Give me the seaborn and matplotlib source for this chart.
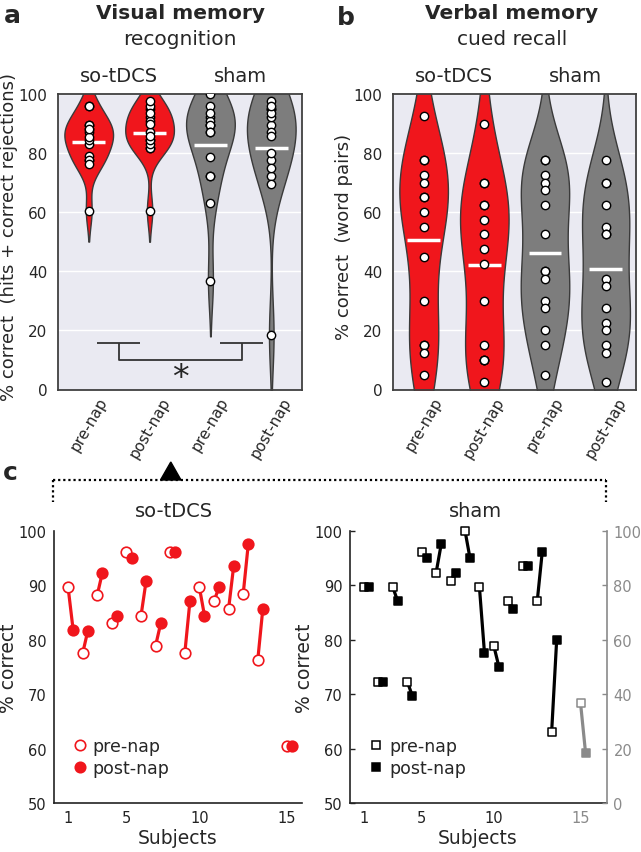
import numpy as np
import pandas as pd
import matplotlib
matplotlib.use('Agg')
import matplotlib.pyplot as plt
import seaborn as sns
from matplotlib.lines import Line2D
from matplotlib.patches import Polygon
from matplotlib.transforms import blended_transform_factory

# ---------------- data ----------------
conditions = ['pre-nap', 'post-nap', 'pre-nap', 'post-nap']
groups = ['so-tDCS', 'sham']
subjects = list(range(1, 16))
outlier_subject = 15

# visual memory recognition (% hits + correct rejections), per subject
visual_stim_pre = [89.6, 77.5, 88.2, 83.0, 96.1, 84.4, 78.9, 96.1, 77.5, 89.6, 87.0, 85.6, 88.3, 76.2, 60.5]
visual_stim_post = [81.7, 81.6, 92.3, 84.4, 94.9, 90.8, 83.0, 96.1, 87.0, 84.4, 89.7, 93.5, 97.5, 85.7, 60.5]
visual_sham_pre = [89.6, 72.3, 89.6, 72.3, 96.1, 92.3, 90.8, 100.0, 89.6, 78.8, 87.0, 93.5, 87.0, 63.0, 36.8]
visual_sham_post = [89.6, 72.3, 87.0, 69.7, 94.9, 97.5, 92.3, 94.9, 77.5, 75.0, 85.7, 93.5, 96.1, 80.0, 18.4]

# verbal memory cued recall (% word pairs)
verbal_stim_pre = [92.5, 77.5, 77.5, 72.5, 70, 65, 65, 60, 55, 45, 30, 15, 15, 12.5, 5]
verbal_stim_post = [90, 70, 70, 62.5, 62.5, 57.5, 52.5, 47.5, 42.5, 30, 15, 10, 10, 10, 2.5]
verbal_sham_pre = [77.5, 77.5, 72.5, 70, 67.5, 62.5, 52.5, 40, 40, 37.5, 30, 27.5, 20, 15, 5]
verbal_sham_post = [77.5, 70, 70, 62.5, 55, 52.5, 52.5, 37.5, 35, 27.5, 22.5, 20, 15, 12.5, 2.5]

# ---------------- style ----------------
sns.set_theme(style='darkgrid')
plt.rcParams['font.family'] = ['DejaVu Sans']
RED = '#f0161c'
GRAY = '#7d7d7d'
EDGE = '#3a3a3a'
LIGHTGRAY = '#8a8a8a'

slots = [f'{g} {c}' for g, c in zip(['so-tDCS', 'so-tDCS', 'sham', 'sham'], conditions)]
palette = dict(zip(slots, [RED, RED, GRAY, GRAY]))

W, H = 641, 853
fig = plt.figure(figsize=(W / 100, H / 100), dpi=100)


def long_df(arrs):
    return pd.DataFrame({'slot': np.repeat(slots, [len(a) for a in arrs]),
                         'value': np.concatenate([np.asarray(a, float) for a in arrs])})


def violin_panel(ax, df, ylabel, lab_x):
    sns.violinplot(data=df, x='slot', y='value', hue='slot', order=slots, hue_order=slots,
                   palette=palette, inner=None, cut=2, density_norm='width', width=0.8,
                   linewidth=1.0, linecolor=EDGE, saturation=1, legend=False, ax=ax)
    means = df.groupby('slot')['value'].mean().reindex(slots)
    xs = np.arange(len(slots))
    ax.hlines(means.values, xs - 0.27, xs + 0.27, color='white', lw=2.5, zorder=3)
    sns.stripplot(data=df, x='slot', y='value', order=slots, jitter=False, color='white',
                  edgecolor='black', linewidth=1.0, size=6, ax=ax, zorder=4)
    ax.set_ylim(0, 100)
    ax.set_xlim(-0.5, 3.5)
    ax.set_yticks(range(0, 101, 20))
    ax.set_xticks(xs)
    ax.set_xticklabels(conditions, rotation=60, ha='center', fontsize=11)
    ax.tick_params(axis='y', labelsize=11, pad=2)
    ax.tick_params(axis='x', pad=-3)
    ax.set_xlabel('')
    ax.set_ylabel(ylabel, fontsize=13)
    ax.yaxis.set_label_coords(lab_x, 0.52)
    ax.grid(axis='x', visible=False)
    for s in ax.spines.values():
        s.set_visible(True)
        s.set_color('#404040')
        s.set_linewidth(1.3)
    tr = blended_transform_factory(ax.transData, ax.transAxes)
    ax.text(0.5, 1.045, groups[0], transform=tr, ha='center', va='baseline', fontsize=14)
    ax.text(2.5, 1.045, groups[1], transform=tr, ha='center', va='baseline', fontsize=14)


# ---------------- panel a ----------------
axA = fig.add_axes([58.3 / W, 1 - 390.5 / H, 243.4 / W, 295.5 / H])
violin_panel(axA, long_df([visual_stim_pre, visual_stim_post, visual_sham_pre, visual_sham_post]),
             '% correct  (hits + correct rejections)', -0.165)
bk = dict(color='#333333', lw=1.3, solid_capstyle='butt')
axA.plot([0.13, 0.84], [15.6, 15.6], **bk)
axA.plot([2.16, 2.87], [15.6, 15.6], **bk)
axA.plot([0.49, 0.49, 2.52, 2.52], [15.6, 10, 10, 15.6], **bk)
axA.text(1.5, 3.9, '*', ha='center', va='center', fontsize=24)

# ---------------- panel b ----------------
axB = fig.add_axes([393.3 / W, 1 - 390.5 / H, 242.7 / W, 295.5 / H])
violin_panel(axB, long_df([verbal_stim_pre, verbal_stim_post, verbal_sham_pre, verbal_sham_post]),
             '% correct  (word pairs)', -0.165)

# titles and panel letters
fig.text(180 / W, 1 - 19.3 / H, 'Visual memory', ha='center', va='baseline', fontsize=14.5, fontweight='bold')
fig.text(180 / W, 1 - 45 / H, 'recognition', ha='center', va='baseline', fontsize=14.5)
fig.text(512 / W, 1 - 19.3 / H, 'Verbal memory', ha='center', va='baseline', fontsize=14.5, fontweight='bold')
fig.text(512 / W, 1 - 45 / H, 'cued recall', ha='center', va='baseline', fontsize=14.5)
fig.text(4 / W, 1 - 23 / H, 'a', ha='left', va='baseline', fontsize=18, fontweight='bold')
fig.text(337 / W, 1 - 25 / H, 'b', ha='left', va='baseline', fontsize=18, fontweight='bold')
fig.text(3 / W, 1 - 480 / H, 'c', ha='left', va='baseline', fontsize=18, fontweight='bold')

# dotted bracket and arrow
yb, ye = 1 - 481 / H, 1 - 503 / H
xl, xr = 53 / W, 606 / W
dot = dict(color='black', lw=1.6, ls=(0, (1, 1.3)), transform=fig.transFigure)
fig.add_artist(Line2D([xl, xr], [yb, yb], **dot))
fig.add_artist(Line2D([xl, xl], [yb, ye], **dot))
fig.add_artist(Line2D([xr, xr], [yb, ye], **dot))
fig.add_artist(Polygon([[160.5 / W, yb], [181 / W, yb], [170.8 / W, 1 - 463 / H]], closed=True,
                       color='black', transform=fig.transFigure))

# ---------------- panel c ----------------
subj = np.array(subjects)
pos = subj + (subj >= outlier_subject).astype(float)  # outlier shown apart
post_shift = 0.35
tick_pos = list(range(1, int(pos.max()) + 1))
tick_lab = {1: '1', 5: '5', 10: '10', int(pos[subj == outlier_subject][0]): str(outlier_subject)}
tick_labels = [tick_lab.get(p, '') for p in tick_pos]


def pairs_df(pre, post, mask):
    pre = np.asarray(pre, float)[mask]
    post = np.asarray(post, float)[mask]
    p = pos[mask]
    return pd.DataFrame({'x': np.concatenate([p, p + post_shift]),
                         'value': np.concatenate([pre, post]),
                         'subject': np.concatenate([subj[mask], subj[mask]]),
                         'time': ['pre'] * len(p) + ['post'] * len(p)})


def style_c(ax, xmax, title, tx, lab_x):
    ax.set_facecolor('white')
    ax.grid(False)
    ax.set_xlim(0, xmax)
    ax.set_ylim(50, 100)
    ax.set_yticks(range(50, 101, 10))
    ax.set_xticks(tick_pos)
    ax.set_xticklabels(tick_labels)
    ax.tick_params(direction='in', length=3.5, width=1, labelsize=10.5, colors='#222222', pad=5)
    for k in ['top', 'right']:
        ax.spines[k].set_visible(False)
    for k in ['left', 'bottom']:
        ax.spines[k].set_color('#222222')
        ax.spines[k].set_linewidth(1.2)
    ax.set_xlabel('Subjects', fontsize=13.5, labelpad=2)
    ax.set_ylabel('% correct', fontsize=13.5)
    ax.yaxis.set_label_coords(lab_x, 0.5)
    fig.text(tx, 1 - 516.7 / H, title, ha='center', va='baseline', fontsize=14)


# left: so-tDCS
axC1 = fig.add_axes([53.5 / W, 1 - 804 / H, 248 / W, 272.3 / H])
all_mask = np.ones(len(subj), bool)
dfL = pairs_df(visual_stim_pre, visual_stim_post, all_mask)
sns.lineplot(data=dfL, x='x', y='value', units='subject', estimator=None, color=RED, lw=2.3,
             ax=axC1, legend=False, zorder=2)
d = dfL[dfL.time == 'pre']
axC1.scatter(d.x, d.value, marker='o', s=58, facecolor='white', edgecolor=RED, linewidth=1.2, zorder=3, clip_on=False)
d = dfL[dfL.time == 'post']
axC1.scatter(d.x, d.value, marker='o', s=58, facecolor=RED, edgecolor=RED, linewidth=1.2, zorder=4, clip_on=False)
style_c(axC1, 17.0, groups[0], 173.8 / W, -0.145)
hL = [Line2D([], [], ls='', marker='o', ms=7.5, mfc='white', mec=RED, mew=1.2),
      Line2D([], [], ls='', marker='o', ms=7.5, mfc=RED, mec=RED, mew=1.2)]
axC1.legend(hL, conditions[:2], loc='lower left', bbox_to_anchor=(0.05, 0.07), frameon=False,
            fontsize=12.5, handlelength=0.8, handletextpad=0.35, labelspacing=0.25, borderaxespad=0)

# right: sham
axC2 = fig.add_axes([349.5 / W, 1 - 804 / H, 257 / W, 272.3 / H])
main_mask = subj != outlier_subject
dfR = pairs_df(visual_sham_pre, visual_sham_post, main_mask)
sns.lineplot(data=dfR, x='x', y='value', units='subject', estimator=None, color='black', lw=2.3,
             ax=axC2, legend=False, zorder=2)
d = dfR[dfR.time == 'pre']
axC2.scatter(d.x, d.value, marker='s', s=34, facecolor='white', edgecolor='black', linewidth=1.1, zorder=3, clip_on=False)
d = dfR[dfR.time == 'post']
axC2.scatter(d.x, d.value, marker='s', s=34, facecolor='black', edgecolor='black', linewidth=1.1, zorder=4, clip_on=False)
style_c(axC2, 17.8, groups[1], 475 / W, -0.14)
axC2.get_xticklabels()[-1].set_color(LIGHTGRAY)
hR = [Line2D([], [], ls='', marker='s', ms=5.8, mfc='white', mec='black', mew=1.1),
      Line2D([], [], ls='', marker='s', ms=5.8, mfc='black', mec='black', mew=1.1)]
axC2.legend(hR, conditions[:2], loc='lower left', bbox_to_anchor=(0.05, 0.07), frameon=False,
            fontsize=12.5, handlelength=0.8, handletextpad=0.35, labelspacing=0.25, borderaxespad=0)

# outlier on secondary (gray) axis
axT = axC2.twinx()
axT.grid(False)
dfO = pairs_df(visual_sham_pre, visual_sham_post, ~main_mask)
sns.lineplot(data=dfO, x='x', y='value', units='subject', estimator=None, color=LIGHTGRAY, lw=2.3,
             ax=axT, legend=False, zorder=2)
d = dfO[dfO.time == 'pre']
axT.scatter(d.x, d.value, marker='s', s=34, facecolor='white', edgecolor=LIGHTGRAY, linewidth=1.1, zorder=3)
d = dfO[dfO.time == 'post']
axT.scatter(d.x, d.value, marker='s', s=34, facecolor=LIGHTGRAY, edgecolor=LIGHTGRAY, linewidth=1.1, zorder=4)
axT.set_ylim(0, 100)
axT.set_xlim(0, 17.8)
axT.set_yticks(range(0, 101, 20))
axT.set_ylabel('')
axT.tick_params(direction='in', length=3.5, width=1, labelsize=10.5, colors=LIGHTGRAY, pad=5)
for k in ['top', 'left', 'bottom']:
    axT.spines[k].set_visible(False)
axT.spines['right'].set_visible(True)
axT.spines['right'].set_color(LIGHTGRAY)
axT.spines['right'].set_linewidth(1.2)

fig.savefig('out.png', dpi=100)
